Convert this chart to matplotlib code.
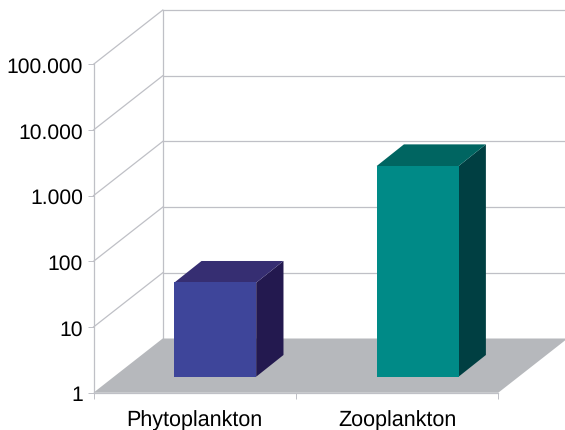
import matplotlib
matplotlib.use('Agg')
import matplotlib.pyplot as plt
from matplotlib.patches import Polygon
from matplotlib.ticker import NullLocator
from matplotlib.transforms import Affine2D, IdentityTransform

# data
categories = ['Phytoplankton', 'Zooplankton']
values = [27, 1610]
y_ticks = [1, 10, 100, 1000, 10000, 100000]
y_labels = ['1', '10', '100', '1.000', '10.000', '100.000']

front_colors = ['#3e459a', '#008a87']
side_colors = ['#23194f', '#003f42']
top_colors = ['#362e72', '#006561']
grid_color = '#bfc0c6'
floor_color = '#b6b8bc'

W, H = 565, 430
plt.rcParams['font.family'] = ['Liberation Sans', 'DejaVu Sans']
plt.rcParams['text.hinting'] = 'no_hinting'

fig = plt.figure(figsize=(W / 100, H / 100), dpi=100)
ax = fig.add_axes([93.5 / W, 1 - 392.7 / H, 404.8 / W, 328.4 / H])
ax.set_yscale('log')
ax.set_xlim(0, 2)
ax.set_ylim(1, 100000)
ax.patch.set_alpha(0)

# pixel offsets of the back wall and the bars (y goes up in display coords)
wall_dx, wall_dy = 69.2, 54.2
bar_dx, bar_dy = 20.5, 16
depth_dx, depth_dy = 27.3, 21.7
px = IdentityTransform()


def to_px(x, y):
    return ax.transData.transform((x, y))


# floor
x0, y0 = to_px(0, 1)
x1, _ = to_px(2, 1)
ax.add_patch(Polygon([(x0, y0), (x1, y0), (x1 + wall_dx, y0 + wall_dy), (x0 + wall_dx, y0 + wall_dy)],
                     closed=True, fc=floor_color, ec='none', transform=px, clip_on=False, zorder=2))

# wall lines
for v in y_ticks:
    xa, ya = to_px(0, v)
    if v > 1:
        ax.plot([xa, xa + wall_dx], [ya, ya + wall_dy], color=grid_color, lw=0.9,
                transform=px, clip_on=False, zorder=1)
        ax.plot([xa + wall_dx, W + 5], [ya + wall_dy, ya + wall_dy], color=grid_color, lw=0.9,
                transform=px, clip_on=False, zorder=1)
xa, ya = to_px(0, 1)
_, yb = to_px(0, 100000)
ax.plot([xa + wall_dx, xa + wall_dx], [ya + wall_dy, yb + wall_dy], color=grid_color, lw=0.9,
        transform=px, clip_on=False, zorder=1)

# bars
positions = [0.5, 1.5]
bars = ax.bar(positions, values, width=0.405, bottom=1, color=front_colors, zorder=4, clip_on=False)
for i, bar in enumerate(bars):
    bar.set_transform(ax.transData + Affine2D().translate(bar_dx, bar_dy))
    xl = positions[i] - 0.405 / 2
    xr = positions[i] + 0.405 / 2
    lx, by = to_px(xl, 1)
    rx, ty = to_px(xr, values[i])
    lx += bar_dx
    rx += bar_dx
    by += bar_dy
    ty += bar_dy
    ax.add_patch(Polygon([(rx, by), (rx + depth_dx, by + depth_dy), (rx + depth_dx, ty + depth_dy), (rx, ty)],
                         closed=True, fc=side_colors[i], ec='none', transform=px, clip_on=False, zorder=3))
    ax.add_patch(Polygon([(lx, ty), (rx, ty), (rx + depth_dx, ty + depth_dy), (lx + depth_dx, ty + depth_dy)],
                         closed=True, fc=top_colors[i], ec='none', transform=px, clip_on=False, zorder=3))

# axes
ax.set_yticks(y_ticks)
ax.set_yticklabels(y_labels, fontsize=15.2, color='black')
ax.yaxis.set_minor_locator(NullLocator())
ax.set_xticks([0, 1, 2])
ax.set_xticklabels([])
ax.set_xticks(positions, minor=True)
ax.set_xticklabels(categories, minor=True, fontsize=15.5, color='black')
ax.tick_params(axis='y', which='major', length=4.3, width=0.7, color=grid_color, pad=3.2)
ax.tick_params(axis='x', which='major', length=4.3, width=0.7, color=grid_color)
ax.tick_params(axis='x', which='minor', length=0, pad=12.5)
for label in ax.get_yticklabels():
    label.set_y(label.get_position()[1])
    label.set_transform(label.get_transform() + Affine2D().translate(0, -1))
for side in ['top', 'right']:
    ax.spines[side].set_visible(False)
for side in ['left', 'bottom']:
    ax.spines[side].set_color(grid_color)
    ax.spines[side].set_linewidth(0.9)

fig.savefig('out.png', dpi=100)
